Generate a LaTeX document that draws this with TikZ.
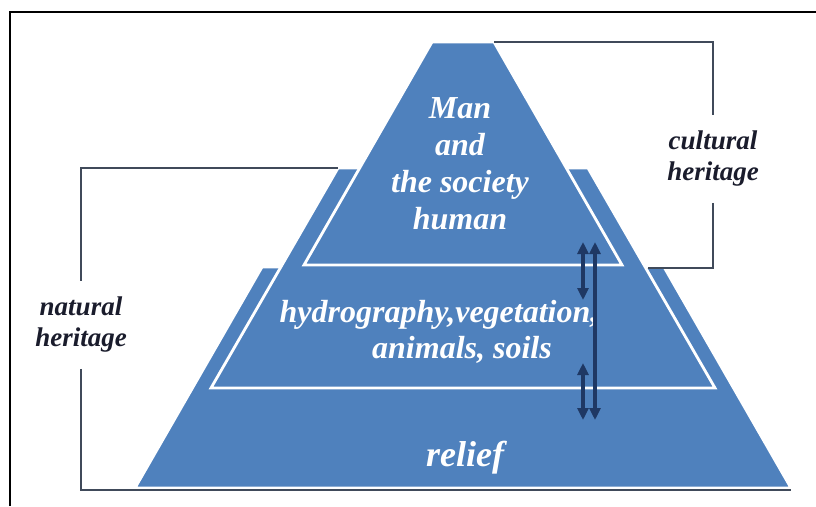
\documentclass[tikz,border=0pt]{standalone}
\usepackage{fontspec}
\setmainfont{Liberation Serif}
\usetikzlibrary{arrows.meta,positioning}
\definecolor{pyrblue}{HTML}{4F81BD}
\definecolor{inkdark}{HTML}{1A1C2C}
\definecolor{bracketgray}{HTML}{404A5A}
\definecolor{arrownavy}{HTML}{1F3864}

\begin{document}
\begin{tikzpicture}[
    x=1pt, y=-1pt,
    layer/.style={fill=pyrblue, draw=white, line width=2.8pt, line join=miter},
    inlbl/.style={text=white, font=\fontsize{32}{37}\selectfont\bfseries\itshape,
                  align=center, inner sep=0pt},
    sidelbl/.style={text=inkdark, fill=white, font=\fontsize{27}{31}\selectfont\bfseries\itshape,
                    align=center, inner xsep=3pt, inner ysep=16pt},
    bracket/.style={draw=bracketgray, line width=1.3pt},
    link/.style={{Triangle[length=12pt,width=11pt]}-{Triangle[length=12pt,width=11pt]},
                 draw=arrownavy, line width=3.2pt},
    frame/.style={draw=black, line width=2.2pt},
  ]
  \useasboundingbox (0,0) rectangle (816,506);
  \draw[frame] (10,506) -- (10,12) -- (816,12);

  % layer corners
  \coordinate (btl) at (262,267);
  \coordinate (btr) at (664,267);
  \coordinate (bbr) at (791,488);
  \coordinate (bbl) at (135,488);
  \coordinate (mtl) at (338,168);
  \coordinate (mtr) at (588,168);
  \coordinate (mbr) at (715,388);
  \coordinate (mbl) at (211,388);
  \coordinate (ttl) at (432,42);
  \coordinate (ttr) at (494,42);
  \coordinate (tbr) at (622,265);
  \coordinate (tbl) at (304,265);

  \path[layer] (btl) -- (btr) -- (bbr) -- (bbl) -- cycle;
  \path[layer] (mtl) -- (mtr) -- (mbr) -- (mbl) -- cycle;
  \path[layer] (ttl) -- (ttr) -- (tbr) -- (tbl) -- cycle;

  \node[inlbl] (man) at (460,164) {Man\\and\\the society\\human};
  \node[inlbl, anchor=base] (hydro) at (439,322) {hydrography,vegetation,};
  \node[inlbl, anchor=base] (animals) at (462,358) {animals, soils};
  \node[inlbl, anchor=base, font=\fontsize{36}{40}\selectfont\bfseries\itshape] (relief) at (465,466) {relief};

  \node[sidelbl] (cultural) at (713,159) {cultural\\heritage};
  \node[sidelbl] (natural) at (81,325) {natural\\heritage};

  % brackets
  \coordinate (cultend) at (648,268);
  \coordinate (baseend) at (791,490);
  \draw[bracket] (ttr) -| (cultural.north);
  \draw[bracket] (cultural.south) |- (cultend);
  \draw[bracket] (mtl) -| (natural.north);
  \draw[bracket] (natural.south) |- (baseend);

  % links between layers
  \coordinate (lt1) at (583,242);
  \coordinate (lb1) at (583,300);
  \coordinate (lt2) at (583,363);
  \coordinate (lb2) at (583,420);
  \coordinate (rt) at (595,242);
  \coordinate (rb) at (595,420);
  \draw[link] (lt1) -- (lb1);
  \draw[link] (lt2) -- (lb2);
  \draw[link] (rt) -- (rb);
\end{tikzpicture}
\end{document}
